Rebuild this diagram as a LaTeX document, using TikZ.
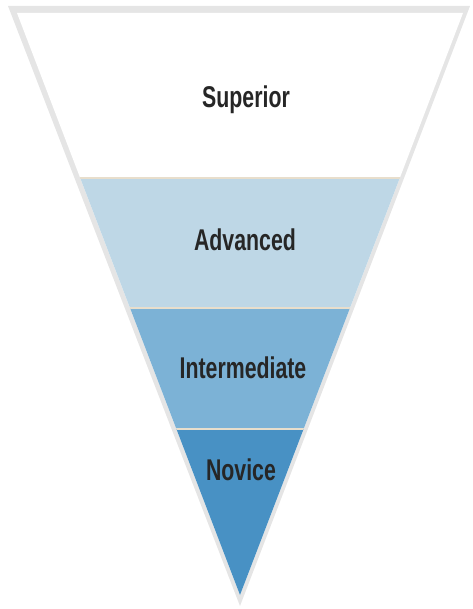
\documentclass[tikz,border=0pt]{standalone}
\usepackage{fontspec}
\setmainfont{Liberation Sans}[FakeStretch=0.71]
\definecolor{advblue}{RGB}{190,215,230}
\definecolor{intblue}{RGB}{124,178,214}
\definecolor{novblue}{RGB}{72,145,196}
\definecolor{sepline}{RGB}{232,222,204}
\tikzset{level/.style={text=black!85,font=\bfseries\fontsize{30}{36}\selectfont}}

\begin{document}
\begin{tikzpicture}[x=1pt,y=-1pt]
\useasboundingbox (0,0) rectangle (472,609);
% outer rim
\fill[gray!20] (8,6)--(470,6)--(240,606)--cycle;
 \begin{scope}
\clip (17,13)--(463,13)--(240,595)--cycle;
	\fill[white] (0,0) rectangle (472,609);
	\fill[advblue] (0,178) rectangle (472,308);
	\fill[intblue] (0,308) rectangle (472,429);
	\fill[novblue] (0,429) rectangle (472,609);
	\draw[sepline,line width=1.5pt] (0,178)--(472,178);
	\draw[sepline,line width=1.5pt] (0,308)--(472,308);
	\draw[sepline,line width=1.5pt] (0,429)--(472,429);
	\end{scope}

\node[level] (superior) at (246,100) {Superior};
\node[level] (advanced) at (245,240) {Advanced};
\node[level] (intermediate) at (243,368) {Intermediate};
\node[level] (novice) at (241,470) {Novice};
\end{tikzpicture}
\end{document}
